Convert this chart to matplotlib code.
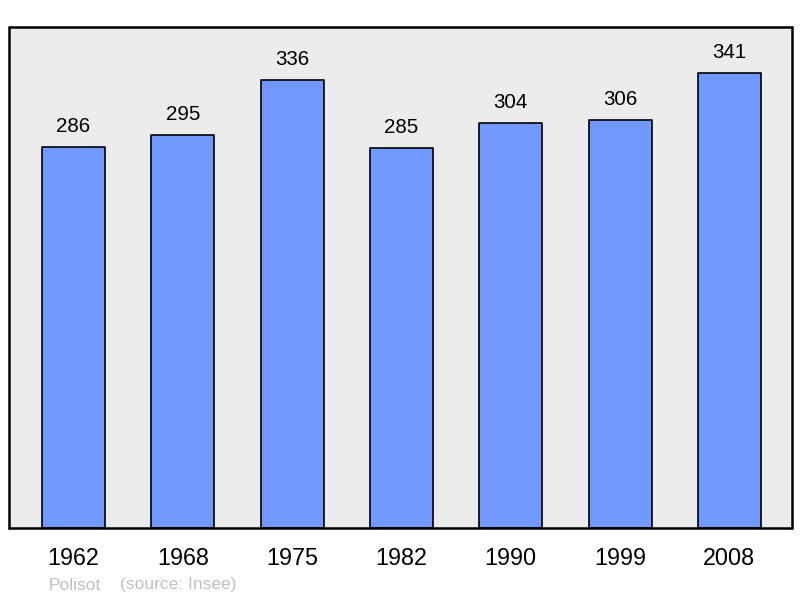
import matplotlib.pyplot as plt

plt.rcParams['font.family'] = ['Liberation Sans', 'DejaVu Sans']

years = ['1962', '1968', '1975', '1982', '1990', '1999', '2008']
population = [286, 295, 336, 285, 304, 306, 341]
place = 'Polisot'
source = '(source: Insee)'

fig = plt.figure(figsize=(8, 5.98), dpi=100)
ax = fig.add_axes([9/800, 1 - 528/598, 783/800, 501/598])
ax.set_facecolor('#ececec')

x = list(range(len(years)))
bars = ax.bar(x, population, width=0.576, color='#7098ff', edgecolor='black',
              linewidth=1.2, zorder=2)
for b in bars:
    b.set_joinstyle('round')

for xi, v in zip(x, population):
    ax.annotate(str(v), (xi, v), xytext=(0, 8), textcoords='offset points',
                ha='center', va='bottom', fontsize=14.8, color='black')

ax.set_xlim(-0.59, 6.573)
ax.set_ylim(0, 375.8)
ax.set_xticks(x)
ax.set_xticklabels(years, fontsize=16.8)
ax.tick_params(axis='x', length=0, pad=14)
ax.set_yticks([])
for s in ax.spines.values():
    s.set_linewidth(1.8)
    s.set_capstyle('round')

fig.text(49/800, 1 - 585/598, place, fontsize=12.5, color='#c0c0c0', va='center')
fig.text(120/800, 1 - 585/598, source, fontsize=12.5, color='#c0c0c0', va='center')

fig.savefig('out.png', dpi=100)
